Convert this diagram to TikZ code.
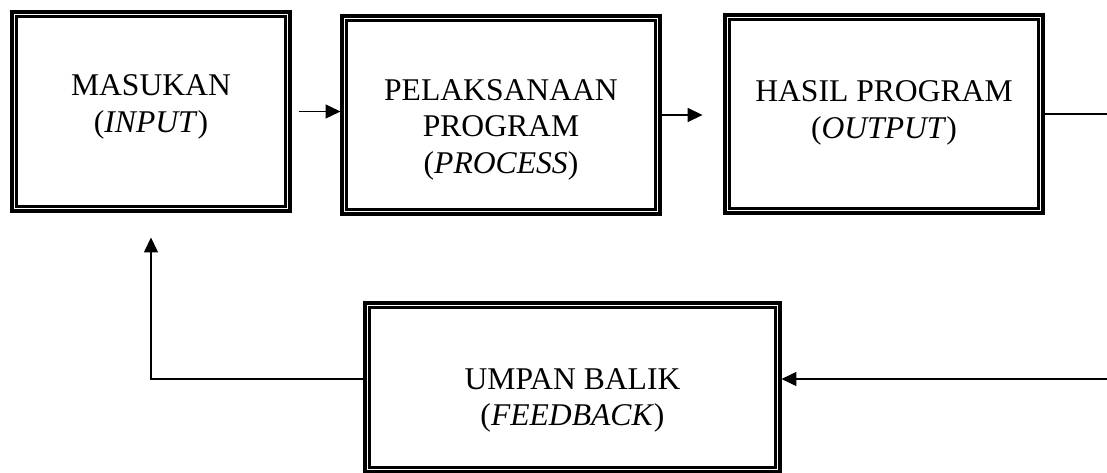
\documentclass[tikz,border=0pt]{standalone}
\usepackage{fontspec}
\setmainfont{Liberation Serif}
\usetikzlibrary{arrows.meta}

\begin{document}
\begin{tikzpicture}[x=0.02cm,y=-0.02cm,
    tribox/.style={draw,line width=1.8pt,inner sep=0pt,
        path picture={\draw[line width=1.3pt]
            ([shift={(0.09cm,0.09cm)}]path picture bounding box.south west) rectangle
            ([shift={(-0.09cm,-0.09cm)}]path picture bounding box.north east);}},
    boxtext/.style={anchor=north,inner sep=0pt,align=center,
        font=\fontsize{18}{21}\selectfont},
    flow/.style={line width=0.7pt,-{Triangle[length=8.5pt,width=8pt]}}]
    \useasboundingbox (0,0) rectangle (1107,473);

    \node[tribox,minimum width=5.56cm,minimum height=3.98cm] (m) at (151,111.5) {};
    \node[tribox,minimum width=6.36cm,minimum height=3.96cm] (p) at (501,115) {};
    \node[tribox,minimum width=6.36cm,minimum height=3.96cm] (h) at (884,114) {};
    \node[tribox,minimum width=8.30cm,minimum height=3.38cm] (u) at (572.5,387.5) {};

    \node[boxtext] (tm) at ([yshift=-36.3pt]m.north) {MASUKAN\\(\textit{INPUT})};
    \node[boxtext] (tp) at ([yshift=-36.6pt]p.north) {PELAKSANAAN\\PROGRAM\\(\textit{PROCESS})};
    \node[boxtext] (th) at ([yshift=-37.8pt]h.north) {HASIL PROGRAM\\(\textit{OUTPUT})};
    \node[boxtext] (tu) at ([yshift=-37.8pt]u.north) {UMPAN BALIK\\(\textit{FEEDBACK})};

    \coordinate (rout) at (1107,114);
    \coordinate (rin) at (1107,379);

    \draw[flow,shorten <=4pt] (m.east) -- (m.east -| p.west);
    \draw[flow,shorten >=11.9pt] (p.east) -- (p.east -| h.west);
    \draw[line width=0.7pt] (h.east) -- (rout);
    \draw[flow] (rin) -- (rin -| u.east);
    \draw[flow,shorten >=14.2pt] (rin -| u.west) -| (m.south);
\end{tikzpicture}
\end{document}
